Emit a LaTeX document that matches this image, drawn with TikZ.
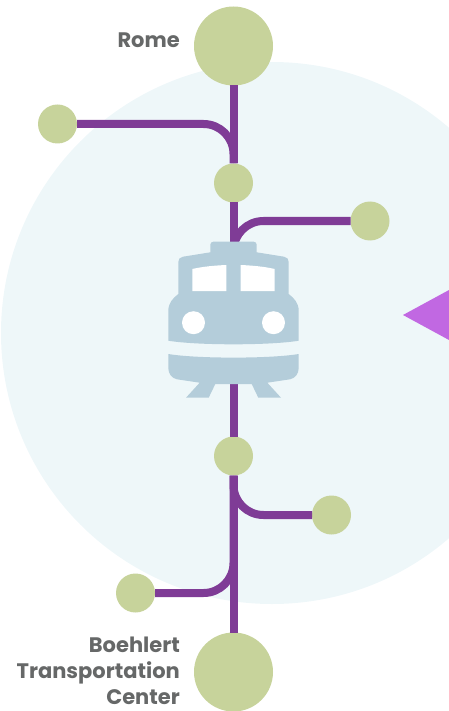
\documentclass[tikz,border=0pt]{standalone}
\usepackage{fontspec}
\setmainfont{Poppins}
\usepackage{xcolor}
\usetikzlibrary{positioning}
\definecolor{halo}{HTML}{EEF7F9}
\definecolor{stop}{HTML}{C7D39B}
\definecolor{track}{HTML}{7F3C96}
\definecolor{loco}{HTML}{B4CDDA}
\definecolor{marker}{HTML}{C168E2}
\definecolor{caption}{HTML}{666868}

\begin{document}
\begin{tikzpicture}[x=1pt,y=-1pt,
  terminus/.style={circle,fill=stop,inner sep=0pt,outer sep=0pt,minimum size=79pt},
  halt/.style={circle,fill=stop,inner sep=0pt,outer sep=0pt,minimum size=39pt},
  trackline/.style={draw=track,line width=8pt},
  branchline/.style={trackline,rounded corners=30pt},
  place/.style={font=\bfseries\fontsize{21}{26}\selectfont,text=caption,align=right,inner sep=0pt}
]
\clip (0,0) rectangle (449,711);
\fill[halo] (272,333) circle (271);
\fill[marker] (403,315) -- (449,290) -- (449,340) -- cycle;

\node[terminus] (rome) at (233.5,46) {};
\node[terminus] (boehlert) at (233.5,672) {};
\node[halt] (upper) at (233.5,183) {};
\node[halt] (lower) at (233.5,456) {};
\node[halt] (upperw) at (57.5,124) {};
\node[halt] (uppere) at (370,221) {};
\node[halt] (lowere) at (331.5,515) {};
\node[halt] (lowerw) at (135.5,593) {};
\coordinate (trainn) at (233.5,250);
\coordinate (trains) at (233.5,380);

\draw[trackline] (rome) -- (upper);
\draw[trackline] (upper) -- (trainn);
\draw[trackline] (trains) -- (lower);
\draw[trackline] (lower) -- (boehlert);
\draw[branchline] (upperw) -| (upper);
\draw[branchline] (uppere) -| (trainn);
\draw[branchline] (lowere) -| (lower);
\draw[branchline] (lowerw) -| (lower);

% locomotive
\fill[loco] (210.3,252.3) -- (210.3,245) [rounded corners=3pt] -- (210.3,241.7) -- (256.7,241.7) [sharp corners] -- (256.7,252.3)
  -- (284,256.7) .. controls (287,257.2) and (288.7,259) .. (288.7,262) -- (288.7,294)
  .. controls (294,298) and (298.7,303) .. (298.7,311) -- (298.7,340.7)
  .. controls (270,345.5) and (197,345.5) .. (168.3,340.7) -- (168.3,311)
  .. controls (168.3,303) and (173,298) .. (178.3,294) -- (178.3,262)
  .. controls (178.3,259) and (180,257.2) .. (183,256.7) -- cycle;
\fill[loco] (168.3,354) .. controls (197,358.8) and (270,358.8) .. (298.7,354) -- (298.7,368)
  .. controls (298.7,374) and (295,378.3) .. (290,379.3) -- (267.3,382.7) -- (281,397.7) -- (258.3,397.7) -- (251.7,384)
  -- (215.3,384) -- (208.7,397.7) -- (186,397.7) -- (199.7,382.7) -- (177,379.3)
  .. controls (172,378.3) and (168.3,374) .. (168.3,368) -- cycle;
\fill[white] (192.3,269) .. controls (203,266.5) and (215,265.5) .. (226.3,265) -- (226.3,291) -- (192.3,291) -- cycle;
\fill[white] (240.7,265) .. controls (252,265.5) and (264,266.5) .. (274.7,269) -- (274.7,291) -- (240.7,291) -- cycle;
\fill[white] (193.5,322.7) circle (11.5);
\fill[white] (273.5,322.7) circle (11.5);

\node[place,left=14pt of rome,yshift=6pt] (romelabel) {Rome};
\node[place,left=14pt of boehlert,yshift=1pt] (boehlertlabel) {Boehlert\\Transportation\\Center};
\end{tikzpicture}
\end{document}
